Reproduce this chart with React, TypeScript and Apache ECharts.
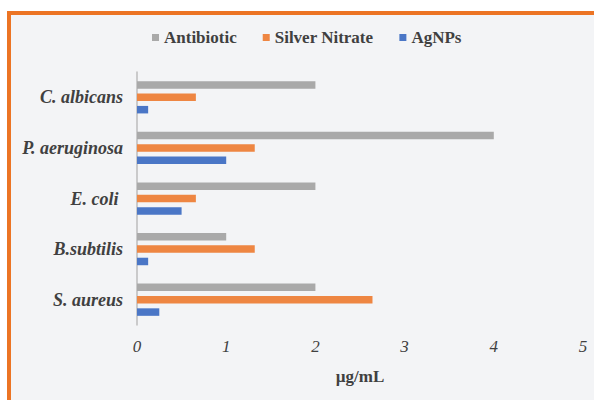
import React, { useEffect, useRef } from "react";
import * as echarts from "echarts";

// Organisms listed top to bottom
const organisms = ["C. albicans", "P. aeruginosa", "E. coli ", "B.subtilis", "S. aureus"];
const seriesNames = ["Antibiotic", "Silver Nitrate", "AgNPs"];
const antibiotic = [2, 4, 2, 1, 2];
const silverNitrate = [0.66, 1.32, 0.66, 1.32, 2.64];
const agnps = [0.125, 1, 0.5, 0.125, 0.25];
const xTicks = [0, 1, 2, 3, 4, 5];
const axisTitle = "µg/mL";

const colors = ["#a9a9a9", "#ee8642", "#4a76c6"];
const serif = "'Liberation Serif', 'Times New Roman', serif";

export default function App() {
  const ref = useRef<HTMLDivElement>(null);

  useEffect(() => {
    if (!ref.current) return;
    const chart = echarts.init(ref.current, null, { renderer: "svg" });
    const values = [antibiotic, silverNitrate, agnps];
    chart.setOption({
      animation: false,
      backgroundColor: "#ffffff",
      color: colors,
      textStyle: { fontFamily: serif },
      graphic: [
        {
          type: "rect",
          z: -10,
          silent: true,
          shape: { x: 9, y: 13, width: 700, height: 500 },
          style: { fill: "#f3f4f6", stroke: "#ec7424", lineWidth: 4 },
        },
      ],
      legend: {
        data: seriesNames,
        left: 147,
        top: 24,
        itemWidth: 7,
        itemHeight: 7,
        itemGap: 26,
        icon: "rect",
        textStyle: {
          fontFamily: serif,
          fontWeight: "bold",
          fontSize: 17,
          color: "#404040",
        },
      },
      grid: { left: 137, right: 11, top: 72, bottom: 75 },
      xAxis: {
        type: "value",
        min: xTicks[0],
        max: xTicks[xTicks.length - 1],
        interval: 1,
        name: axisTitle,
        nameLocation: "middle",
        nameGap: 43,
        nameTextStyle: {
          fontFamily: serif,
          fontWeight: "bold",
          fontSize: 17,
          color: "#404040",
        },
        axisLine: { show: false },
        axisTick: { show: false },
        splitLine: { show: false },
        axisLabel: {
          margin: 13,
          fontFamily: serif,
          fontStyle: "italic",
          fontSize: 17,
          color: "#404040",
        },
      },
      yAxis: {
        type: "category",
        inverse: true,
        data: organisms,
        axisLine: { show: true, lineStyle: { color: "#bdbdbd", width: 1.5 } },
        axisTick: { show: false },
        axisLabel: {
          margin: 14,
          fontFamily: serif,
          fontStyle: "italic",
          fontWeight: "bold",
          fontSize: 18,
          color: "#404040",
        },
      },
      series: seriesNames.map((name, i) => ({
        name,
        type: "bar",
        data: values[i],
        barWidth: 7.5,
        barGap: "65%",
        itemStyle: { color: colors[i] },
      })),
    });
    return () => chart.dispose();
  }, []);

  return <div ref={ref} style={{ width: 594, height: 400, position: "absolute", left: 0, top: 0 }} />;
}
